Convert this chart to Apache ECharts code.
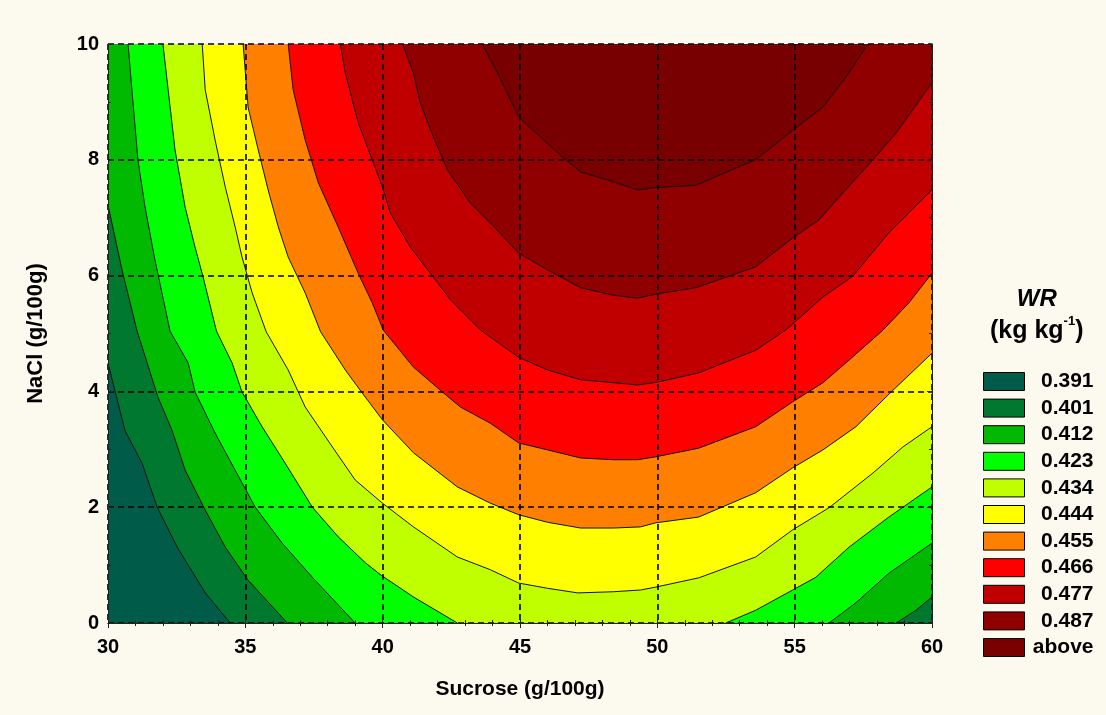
<!DOCTYPE html>
<html>
<head>
<meta charset="utf-8">
<script src="https://cdn.jsdelivr.net/npm/echarts@6/dist/echarts.min.js"></script>
<style>
  html, body { margin: 0; padding: 0; background: #fcfaef; }
  #chart { width: 1106px; height: 715px; }
</style>
</head>
<body>
<div id="chart"></div>
<script>
// legend labels (WR, kg kg-1) and band colours, lowest first
const levelLabels = ['0.391', '0.401', '0.412', '0.423', '0.434', '0.444', '0.455', '0.466', '0.477', '0.487', 'above'];
const bandColors = ['#005c48', '#00782f', '#00b900', '#00ff00', '#c0ff00', '#ffff00', '#ff8000', '#ff0000', '#c00000', '#900000', '#780000'];

const sucroseRange = [30, 60];
const naclRange = [0, 10];

// contour lines, [sucrose, NaCl]
const c391 = [[30, 4.49], [30.62, 3.32], [31.24, 2.76], [31.79, 2.00], [32.52, 1.31], [33.54, 0.52], [34.45, 0]];

const c401a = [[30, 7.22], [30.51, 6.10], [31.06, 5.04], [31.82, 3.90], [32.33, 3.33], [32.81, 2.64], [33.54, 1.95], [34.27, 1.31], [35.10, 0.74], [36.53, 0]];
const c401b = [[58.69, 0], [59.42, 0.22], [60, 0.45]];

const c412a = [[30.73, 10], [30.87, 9.21], [31.09, 8.00], [31.35, 7.18], [31.71, 6.27], [32.26, 5.04], [32.92, 4.49], [33.17, 3.99], [33.90, 3.28], [34.63, 2.64], [35.36, 2.00], [36.34, 1.38], [37.44, 0.79], [39.00, 0]];
const c412b = [[56.25, 0], [57.23, 0.35], [58.43, 0.86], [60, 1.38]];

const c423a = [[32.00, 10], [32.19, 9.21], [32.44, 8.17], [32.81, 7.18], [33.17, 6.49], [33.46, 5.98], [33.95, 5.04], [34.52, 4.49], [34.88, 3.99], [35.61, 3.39], [36.45, 2.76], [37.44, 2.00], [38.38, 1.49], [39.37, 1.04], [39.96, 0.82], [41.12, 0.45], [42.72, 0]];
const c423b = [[52.49, 0], [53.58, 0.22], [54.93, 0.57], [55.77, 0.79], [56.98, 1.31], [58.43, 1.83], [60, 2.35]];

const c434 = [[33.43, 10], [33.54, 9.21], [33.90, 8.34], [34.27, 7.53], [34.63, 6.84], [34.88, 6.32], [35.25, 5.70], [35.76, 5.03], [36.56, 4.37], [37.18, 3.73], [38.17, 3.04], [39.00, 2.47], [39.99, 2.07], [41.12, 1.66], [42.72, 1.14], [43.92, 0.92], [44.95, 0.69], [46.00, 0.60], [47.10, 0.52], [48.41, 0.54], [49.39, 0.57], [49.94, 0.62], [51.51, 0.78], [53.58, 1.14], [54.93, 1.61], [56.25, 1.99], [57.85, 2.59], [58.94, 3.04], [60, 3.39]];

const c444 = [[34.92, 10], [35.10, 8.91], [35.47, 8.17], [35.83, 7.48], [36.20, 6.84], [36.56, 6.32], [37.18, 5.70], [37.74, 5.03], [38.64, 4.37], [39.26, 3.97], [39.99, 3.51], [41.12, 2.94], [42.72, 2.35], [43.92, 2.07], [44.95, 1.87], [46.00, 1.74], [47.21, 1.64], [48.41, 1.64], [49.39, 1.66], [49.94, 1.73], [51.51, 1.83], [53.58, 2.25], [54.93, 2.68], [56.03, 2.99], [57.23, 3.39], [57.85, 3.68], [58.58, 4.02], [60, 4.66]];

const c455 = [[36.56, 10], [36.74, 9.21], [37.18, 8.34], [37.66, 7.60], [38.38, 6.84], [39.11, 6.04], [39.62, 5.53], [40.02, 5.06], [41.12, 4.42], [42.10, 4.02], [42.83, 3.73], [43.92, 3.45], [44.95, 3.11], [46.00, 2.99], [47.21, 2.85], [48.41, 2.82], [49.28, 2.82], [49.94, 2.87], [51.51, 3.02], [53.58, 3.39], [54.93, 3.82], [56.03, 4.15], [56.98, 4.54], [58.22, 5.06], [59.16, 5.53], [60, 6.04]];

const c466 = [[38.46, 10], [38.64, 9.50], [39.11, 8.64], [39.62, 8.00], [39.99, 7.53], [40.28, 7.08], [41.01, 6.49], [41.74, 6.04], [42.47, 5.58], [43.56, 5.06], [44.95, 4.59], [46.00, 4.37], [47.21, 4.20], [48.41, 4.15], [49.28, 4.11], [50.01, 4.16], [51.51, 4.32], [53.58, 4.71], [54.68, 5.06], [56.03, 5.63], [57.12, 5.99], [58.43, 6.74], [60, 7.48]];

const c477 = [[40.72, 10], [41.12, 9.50], [41.37, 8.98], [41.85, 8.39], [42.36, 7.82], [43.20, 7.25], [43.92, 6.91], [44.95, 6.39], [46.00, 6.10], [47.21, 5.79], [48.41, 5.66], [49.28, 5.61], [49.94, 5.68], [51.40, 5.79], [53.58, 6.15], [54.93, 6.65], [55.88, 6.96], [56.76, 7.43], [57.85, 8.00], [58.69, 8.46], [60, 9.33]];

const c487 = [[43.63, 10], [44.18, 9.50], [44.95, 8.74], [45.75, 8.39], [46.59, 8.03], [47.21, 7.79], [48.41, 7.62], [49.28, 7.48], [49.94, 7.52], [51.40, 7.56], [53.58, 8.00], [54.93, 8.51], [56.03, 8.91], [56.87, 9.43], [57.67, 10]];

// contour pieces per level, in level order
const contourPieces = [[c391], [c401a, c401b], [c412a, c412b], [c423a, c423b], [c434], [c444], [c455], [c466], [c477], [c487]];

const [x0, x1] = sucroseRange;
const [y0, y1] = naclRange;
const font = '"Liberation Sans", Arial, sans-serif';

// region above a contour: the line itself closed over the top of the plot
function regionAbove(pieces) {
  const pts = [].concat(...pieces);
  const last = pts[pts.length - 1];
  const tail = last[1] === y0 ? [[x1, y0], [x1, y1], [x0, y1]] : [[x1, y1], [x0, y1]];
  return pts.concat(tail);
}

const regions = [[[x0, y0], [x1, y0], [x1, y1], [x0, y1]]].concat(contourPieces.map(regionAbove));

const bandSeries = regions.map((poly, i) => ({
  type: 'custom',
  name: levelLabels[i],
  silent: true,
  itemStyle: { color: bandColors[i] },
  data: poly,
  z: 2,
  renderItem: function (params, api) {
    if (params.dataIndex !== 0) return null;
    return {
      type: 'polygon',
      shape: { points: poly.map(p => api.coord(p)) },
      style: { fill: bandColors[i], stroke: null }
    };
  }
}));

const lineSeries = [];
contourPieces.forEach(pieces => pieces.forEach(piece => {
  lineSeries.push({
    type: 'line',
    data: piece,
    symbol: 'none',
    silent: true,
    z: 3,
    lineStyle: { color: '#111', width: 1 }
  });
}));

const tickLabel = { fontSize: 20, fontWeight: 'bold', color: '#000', fontFamily: font };

const chart = echarts.init(document.getElementById('chart'));
chart.setOption({
  animation: false,
  backgroundColor: '#fcfaef',
  grid: { left: 108, right: 174, top: 44, bottom: 92 },
  xAxis: [{
    type: 'value', min: x0, max: x1, interval: 5, z: 5,
    axisLine: { show: true, onZero: false, lineStyle: { color: '#222', width: 1 } },
    axisTick: { show: true, inside: true, length: 5, lineStyle: { color: '#222' } },
    minorTick: { show: true, splitNumber: 5, length: 3, lineStyle: { color: '#222' } },
    splitLine: { show: true, lineStyle: { color: '#000', type: [6, 4], width: 1.6 } },
    axisLabel: Object.assign({ margin: 14 }, tickLabel),
    name: 'Sucrose (g/100g)', nameLocation: 'middle', nameGap: 56,
    nameTextStyle: { fontSize: 21, fontWeight: 'bold', color: '#000', fontFamily: font }
  }, {
    type: 'value', min: x0, max: x1, interval: 5, position: 'top', z: 5,
    axisLine: { show: true, lineStyle: { color: '#222', width: 1 } },
    axisTick: { show: true, inside: true, length: 5, lineStyle: { color: '#222' } },
    minorTick: { show: true, splitNumber: 5, length: 3, lineStyle: { color: '#222' } },
    splitLine: { show: false }, axisLabel: { show: false }
  }],
  yAxis: [{
    type: 'value', min: y0, max: y1, interval: 2, z: 5,
    axisLine: { show: true, onZero: false, lineStyle: { color: '#222', width: 1 } },
    axisTick: { show: true, inside: true, length: 5, lineStyle: { color: '#222' } },
    minorTick: { show: true, splitNumber: 2, length: 3, lineStyle: { color: '#222' } },
    splitLine: { show: true, lineStyle: { color: '#000', type: [6, 4], width: 1.6 } },
    axisLabel: Object.assign({ margin: 9 }, tickLabel),
    name: 'NaCl (g/100g)', nameLocation: 'middle', nameGap: 61,
    nameTextStyle: { fontSize: 22, fontWeight: 'bold', color: '#000', fontFamily: font }
  }, {
    type: 'value', min: y0, max: y1, interval: 2, position: 'right', z: 5,
    axisLine: { show: true, lineStyle: { color: '#222', width: 1 } },
    axisTick: { show: true, inside: true, length: 5, lineStyle: { color: '#222' } },
    minorTick: { show: true, splitNumber: 2, length: 3, lineStyle: { color: '#222' } },
    splitLine: { show: false }, axisLabel: { show: false }
  }],
  legend: {
    orient: 'vertical', left: 978, top: 366,
    itemWidth: 41, itemHeight: 18, itemGap: 5.6,
    icon: 'rect', selectedMode: false,
    itemStyle: { borderColor: '#000', borderWidth: 1 },
    data: levelLabels,
    formatter: name => '{v|' + name + '}',
    textStyle: {
      rich: { v: { width: 64, align: 'right', fontSize: 21, lineHeight: 20, fontWeight: 'bold', color: '#000', fontFamily: font } }
    }
  },
  graphic: [{
    type: 'text', left: 990, top: 287, z: 10,
    style: {
      text: '{t|WR}\n{u|(kg kg}{s|-1}{u|)}',
      textAlign: 'center',
      rich: {
        t: { fontSize: 24, fontWeight: 'bold', fontStyle: 'italic', fontFamily: font, color: '#000', lineHeight: 32, align: 'center' },
        u: { fontSize: 25, fontWeight: 'bold', fontFamily: font, color: '#000', lineHeight: 32 },
        s: { fontSize: 13, fontWeight: 'bold', fontFamily: font, color: '#000', verticalAlign: 'top', lineHeight: 32 }
      }
    }
  }],
  series: bandSeries.concat(lineSeries)
});
</script>
</body>
</html>
